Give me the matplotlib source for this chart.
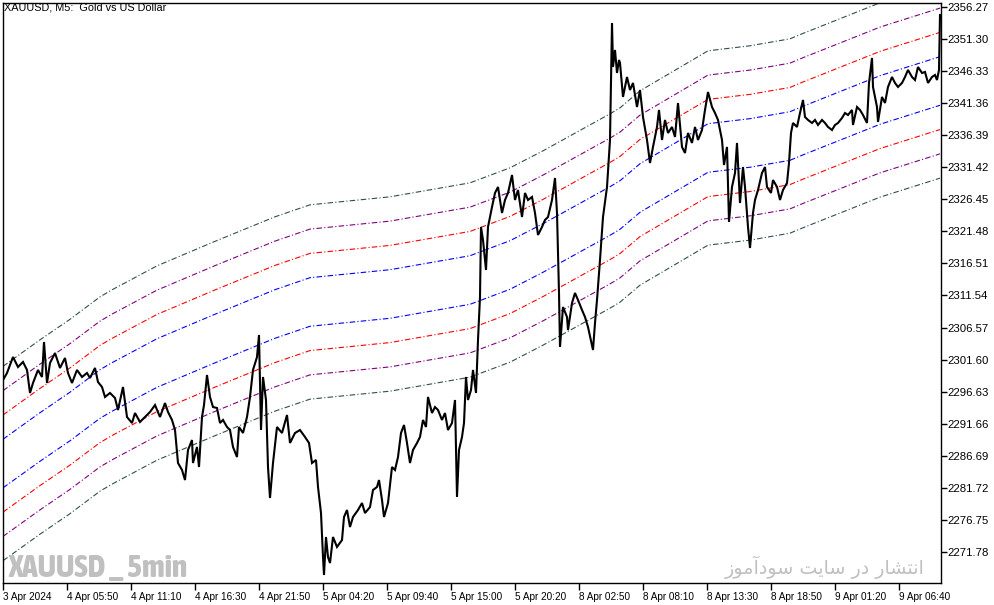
import matplotlib
matplotlib.use("Agg")
import matplotlib.pyplot as plt
from matplotlib import font_manager as fm
import numpy as np

# ---------------- data ----------------
title = "XAUUSD, M5:  Gold vs US Dollar"

x_tick_labels = ["3 Apr 2024", "4 Apr 05:50", "4 Apr 11:10", "4 Apr 16:30", "4 Apr 21:50",
                 "5 Apr 04:20", "5 Apr 09:40", "5 Apr 15:00", "5 Apr 20:20", "8 Apr 02:50",
                 "8 Apr 08:10", "8 Apr 13:30", "8 Apr 18:50", "9 Apr 01:20", "9 Apr 06:40"]
y_ticks = [2271.78, 2276.75, 2281.72, 2286.69, 2291.66, 2296.63, 2301.60, 2306.57,
           2311.54, 2316.51, 2321.48, 2326.45, 2331.42, 2336.39, 2341.36, 2346.33,
           2351.30, 2356.27]

# close price samples: bar index (5-minute bars) and price
price_bar = [0, 4, 10, 15, 20, 24, 27, 30, 35, 39, 41, 44, 47, 52, 57, 62, 65, 69, 74, 79,
             84, 87, 92, 95, 99, 102, 107, 112, 115, 120, 124, 129, 132, 137, 142, 147, 152,
             157, 162, 165, 169, 172, 175, 179, 182, 185, 189, 190, 194, 196, 199, 201, 204,
             207, 210, 214, 217, 220, 224, 227, 230, 234, 236, 240, 244, 247, 250, 254, 256,
             258, 260, 263, 265, 267, 270, 274, 279, 284, 287, 292, 297, 302, 306, 309, 313,
             315, 318, 320, 321, 323, 325, 327, 330, 334, 339, 341, 344, 347, 350, 355, 359,
             362, 367, 370, 374, 376, 379, 381, 385, 389, 392, 395, 398, 401, 404, 407, 410,
             414, 417, 420, 423, 425, 429, 432, 435, 439, 442, 445, 449, 452, 454, 456, 459,
             461, 463, 465, 468, 470, 473, 475, 477, 478, 480, 483, 485, 489, 492, 495, 499,
             502, 505, 509, 512, 515, 519, 522, 525, 529, 532, 535, 539, 542, 545, 549, 552,
             554, 556, 557, 560, 564, 565, 569, 572, 575, 579, 582, 585, 590, 592, 594, 597,
             600, 604, 607, 609, 610, 612, 614, 616, 617, 620, 622, 624, 627, 630, 634, 637,
             640, 644, 647, 650, 654, 656, 659, 662, 665, 669, 672, 675, 679, 682, 685, 689,
             692, 695, 699, 702, 705, 709, 712, 715, 719, 721, 724, 726, 729, 732, 734, 737,
             740, 742, 745, 747, 750, 752, 755, 759, 762, 764, 768, 770, 774, 777, 780, 784,
             786, 788, 790, 794, 797, 800, 802, 805, 809, 812, 815, 819, 822, 825, 829, 832,
             835, 839, 842, 845, 849, 850, 854, 857, 860, 864, 866, 869, 870, 874, 875, 879,
             882, 885, 889, 892, 895, 899, 902, 905, 909, 912, 915, 919, 922, 925, 929, 932,
             934, 936, 937]
price_val = [2298.42, 2299.51, 2301.99, 2300.44, 2301.22, 2299.98, 2296.41, 2297.96, 2299.98,
             2298.89, 2304.32, 2297.96, 2301.06, 2302.61, 2300.29, 2301.84, 2299.51, 2297.96,
             2299.98, 2298.89, 2299.51, 2298.73, 2300.29, 2298.11, 2297.34, 2295.79, 2296.41,
             2295.63, 2293.77, 2297.34, 2292.68, 2291.75, 2293.30, 2291.91, 2292.68, 2293.46,
             2294.54, 2292.68, 2294.85, 2293.46, 2292.22, 2290.66, 2285.54, 2284.46, 2282.90,
             2287.56, 2289.11, 2285.54, 2288.03, 2284.92, 2292.68, 2294.54, 2299.20, 2295.79,
             2294.23, 2294.08, 2291.75, 2292.22, 2291.13, 2290.66, 2288.03, 2286.47, 2291.13,
             2290.20, 2292.68, 2295.79, 2299.98, 2301.99, 2305.41, 2290.66, 2298.89, 2295.32,
             2284.92, 2280.11, 2285.54, 2291.13, 2290.20, 2292.99, 2288.65, 2290.20, 2290.66,
             2289.58, 2288.65, 2285.54, 2286.01, 2281.82, 2277.78, 2270.95, 2268.16, 2274.06,
             2270.95, 2270.02, 2274.06, 2272.51, 2273.59, 2277.16, 2278.25, 2275.61, 2277.16,
             2278.25, 2279.33, 2277.78, 2278.71, 2281.35, 2281.82, 2282.90, 2279.80, 2277.16,
             2279.33, 2284.92, 2284.46, 2286.47, 2290.20, 2291.44, 2288.65, 2285.54, 2287.56,
             2288.65, 2289.58, 2292.22, 2291.13, 2295.79, 2293.30, 2294.23, 2293.77, 2292.22,
             2293.30, 2290.66, 2291.75, 2295.32, 2280.27, 2287.56, 2289.58, 2291.75, 2298.89,
             2295.32, 2296.87, 2299.98, 2296.41, 2304.63, 2311.31, 2322.17, 2320.15, 2315.50,
             2322.17, 2325.27, 2327.45, 2328.38, 2324.34, 2326.36, 2327.45, 2330.24, 2326.36,
             2327.91, 2323.72, 2327.45, 2326.36, 2326.83, 2324.34, 2320.93, 2322.17, 2323.26,
             2323.72, 2326.36, 2329.77, 2324.34, 2311.93, 2303.55, 2309.75, 2308.20, 2306.18,
             2310.37, 2311.93, 2310.84, 2309.29, 2308.20, 2306.65, 2303.08, 2307.27, 2310.84,
             2317.05, 2323.72, 2328.38, 2335.67, 2353.83, 2347.00, 2349.64, 2346.07, 2348.09,
             2347.62, 2342.35, 2343.90, 2345.45, 2343.43, 2344.52, 2340.79, 2343.43, 2339.24,
             2335.67, 2332.10, 2334.59, 2337.69, 2340.33, 2335.67, 2338.78, 2336.76, 2337.69,
             2336.14, 2341.41, 2334.59, 2333.65, 2336.76, 2335.21, 2337.69, 2335.67, 2337.22,
             2340.33, 2343.12, 2340.79, 2339.86, 2338.78, 2335.67, 2331.79, 2334.59, 2322.95,
             2328.38, 2330.55, 2335.21, 2325.89, 2331.48, 2328.38, 2322.17, 2318.91, 2324.34,
             2326.36, 2327.91, 2330.55, 2331.48, 2328.38, 2327.45, 2329.46, 2328.38, 2326.36,
             2327.91, 2329.00, 2332.10, 2336.76, 2338.31, 2337.69, 2339.86, 2341.88, 2339.24,
             2338.78, 2338.31, 2338.78, 2338.00, 2338.78, 2338.31, 2337.69, 2337.22, 2338.00,
             2338.31, 2339.09, 2339.86, 2339.55, 2340.33, 2338.00, 2340.79, 2340.33, 2339.55,
             2338.31, 2344.52, 2348.40, 2343.90, 2340.79, 2338.47, 2342.35, 2341.41, 2343.90,
             2345.45, 2344.52, 2343.90, 2344.52, 2345.45, 2346.54, 2345.45, 2344.98, 2347.00,
             2346.07, 2346.23, 2344.52, 2345.45, 2345.76, 2344.98, 2346.54, 2355.07]

# centre of the channel (mid line, not drawn) and band step
center_bar = [0, 37, 67, 97, 109, 154, 212, 272, 307, 387, 467, 507, 540, 560, 607, 617,
              637, 705, 747, 787, 799, 877, 937]
center_val = [2285.46, 2289.58, 2292.76, 2296.25, 2297.34, 2301.06, 2304.86, 2308.67,
              2310.53, 2311.77, 2313.94, 2316.27, 2318.91, 2320.62, 2324.65, 2325.58,
              2328.22, 2334.43, 2335.21, 2336.29, 2337.07, 2341.88, 2344.83]
band_step = 3.77
band_levels = [1, 2, 3, 4]
band_colors = ["#0000FF", "#FF0000", "#800080", "#2F4F4F"]

watermark_left = "XAUUSD _ 5min"
# "انتشار در سایت سودآموز" written with Arabic presentation forms in visual order
watermark_right = ("\uFEAF\uFEEE\uFEE3\uFE81\uFEA9\uFEEE\uFEB3" + " " +
                   "\uFE96\uFBFE\uFE8E\uFEB3" + " " +
                   "\uFEAD\uFEA9" + " " +
                   "\uFEAD\uFE8E\uFEB8\uFE98\uFEE7\uFE8D")

# ---------------- figure ----------------
W, H = 994, 605
fig = plt.figure(figsize=(W / 100, H / 100), dpi=100)
fig.patch.set_facecolor("white")
L, R, T, B = 3, 941, 3, 583
ax = fig.add_axes([L / W, 1 - B / H, (R - L) / W, (B - T) / H])
ax.set_facecolor("white")

cb = np.array(center_bar, dtype=float)
cv = np.array(center_val, dtype=float)
dash = (0, (5, 2, 1, 2))
for k, col in zip(band_levels, band_colors):
    ax.plot(cb, cv + k * band_step, color=col, lw=0.8, linestyle=dash, zorder=2)
    ax.plot(cb, cv - k * band_step, color=col, lw=0.8, linestyle=dash, zorder=2)

ax.plot(price_bar, price_val, color="black", lw=1.5, solid_joinstyle="miter", zorder=3)

ax.set_xlim(0, 938)
ax.set_ylim(2266.92, 2356.93)

lab_font = ["Liberation Sans", "DejaVu Sans"]
ax.set_xticks([64 * i for i in range(len(x_tick_labels))])
ax.set_xticklabels(x_tick_labels, ha="left", fontsize=7.2, family=lab_font)
ax.yaxis.tick_right()
ax.set_yticks(y_ticks)
ax.set_yticklabels([f"{v:.2f}" for v in y_ticks], fontsize=8.2, family=lab_font)
ax.tick_params(axis="x", direction="out", length=5, width=1, pad=1.5)
ax.tick_params(axis="y", direction="out", length=4, width=1, pad=0.5)
for s in ax.spines.values():
    s.set_color("black")
    s.set_linewidth(1)

fig.text(4 / W, 1 - 3 / H, title, fontsize=7.8, va="top", ha="left", family=lab_font)


# pick the heaviest narrow/condensed face that is installed
def _weight(f):
    w = f.weight
    if isinstance(w, str):
        w = {"thin": 100, "extralight": 200, "light": 300, "normal": 400, "regular": 400,
             "book": 400, "medium": 500, "semibold": 600, "demibold": 600, "bold": 700,
             "extrabold": 800, "black": 900, "heavy": 900}.get(w.lower(), 400)
    return w


cands = [f for f in fm.fontManager.ttflist
         if ("narrow" in f.name.lower() or "condensed" in f.name.lower()
             or "condensed" in str(f.stretch).lower())
         and f.style == "normal"]
cands = [f for f in cands if _weight(f) <= 800]
if cands:
    best = max(cands, key=_weight)
    wm_prop = fm.FontProperties(fname=best.fname)
else:
    wm_prop = fm.FontProperties(family="Liberation Sans", weight="bold")
wm_prop.set_size(24)

t_left = fig.text(8 / W, 1 - 577 / H, watermark_left, fontproperties=wm_prop,
                  color="#C0C0C0", ha="left", va="baseline", zorder=5)
t_right = fig.text(925 / W, 1 - 574 / H, watermark_right, fontsize=15,
                   color="#C0C0C0", family=["DejaVu Sans"], ha="right", va="baseline",
                   zorder=5)

# fit watermark widths to the reference
fig.canvas.draw()
r = fig.canvas.get_renderer()
for t, target in ((t_left, 179.0), (t_right, 200.0)):
    w = t.get_window_extent(r).width
    if w > 0:
        t.set_fontsize(t.get_fontsize() * target / w)

fig.savefig("out.png", dpi=100, facecolor="white")
